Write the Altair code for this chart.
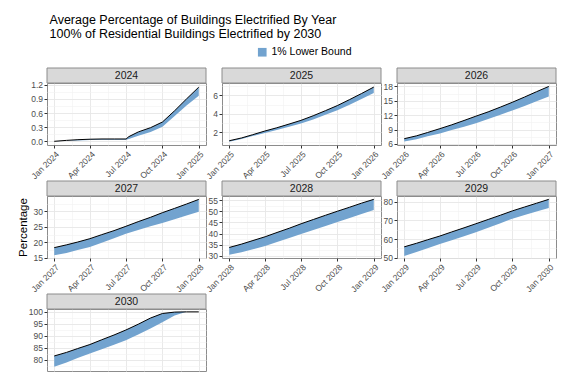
import altair as alt
import pandas as pd

# ---------------- data ----------------
YEARS = [2024, 2025, 2026, 2027, 2028, 2029, 2030]

dates_2024 = ["2024-01-01", "2024-02-01", "2024-03-01", "2024-04-01", "2024-05-01",
              "2024-06-01", "2024-07-01", "2024-07-08", "2024-08-01", "2024-09-01",
              "2024-10-01", "2024-11-01", "2024-12-01", "2025-01-01"]
mean_2024 = [0.00, 0.02, 0.035, 0.045, 0.05, 0.05, 0.05, 0.10, 0.20, 0.29, 0.41, 0.65, 0.90, 1.15]
lower_2024 = [0.00, 0.01, 0.02, 0.03, 0.035, 0.035, 0.035, 0.05, 0.12, 0.20, 0.31, 0.54, 0.76, 0.97]

mean_2025 = [1.1, 1.4, 1.75, 2.15, 2.5, 2.9, 3.3, 3.8, 4.35, 4.9, 5.55, 6.2, 6.9]
lower_2025 = [1.0, 1.3, 1.6, 1.95, 2.25, 2.6, 2.95, 3.4, 3.9, 4.4, 5.0, 5.6, 6.25]

mean_2026 = [7.1, 7.7, 8.4, 9.2, 10.0, 10.9, 11.8, 12.7, 13.7, 14.7, 15.8, 16.9, 18.0]
lower_2026 = [6.5, 7.0, 7.6, 8.2, 8.9, 9.6, 10.3, 11.2, 12.1, 13.0, 13.9, 14.9, 15.9]

mean_2027 = [18.3, 19.2, 20.1, 21.2, 22.5, 23.8, 25.2, 26.7, 28.1, 29.6, 31.0, 32.4, 33.9]
lower_2027 = [15.8, 16.6, 17.5, 18.5, 19.9, 21.3, 22.8, 24.0, 25.2, 26.3, 27.5, 28.7, 29.9]

mean_2028 = [33.8, 35.3, 36.9, 38.6, 40.5, 42.4, 44.4, 46.3, 48.2, 50.0, 51.8, 53.6, 55.3]
lower_2028 = [30.5, 31.7, 33.0, 34.5, 36.2, 38.0, 39.8, 41.6, 43.4, 45.2, 47.0, 48.8, 50.5]

mean_2029 = [55.8, 57.7, 59.6, 61.6, 63.8, 66.0, 68.2, 70.5, 72.8, 75.1, 77.2, 79.2, 81.3]
lower_2029 = [50.9, 53.0, 55.1, 57.3, 59.4, 61.5, 63.6, 66.0, 68.5, 70.9, 72.9, 74.8, 76.7]

mean_2030 = [81.5, 83.0, 84.6, 86.3, 88.3, 90.3, 92.4, 94.8, 97.4, 99.3, 99.9, 100.0, 100.0]
lower_2030 = [77.0, 78.8, 80.6, 82.5, 84.3, 86.2, 88.1, 90.5, 93.0, 95.6, 98.5, 100.0, 100.0]

Y_TICKS = {
    2024: [0.0, 0.3, 0.6, 0.9, 1.2],
    2025: [2, 4, 6],
    2026: [6, 9, 12, 15, 18],
    2027: [15, 20, 25, 30],
    2028: [30, 35, 40, 45, 50, 55],
    2029: [50, 60, 70, 80],
    2030: [80, 85, 90, 95, 100],
}
Y_DOMAIN = {
    2024: [-0.078, 1.238],
    2025: [0.64, 7.34],
    2026: [5.79, 18.72],
    2027: [14.95, 35.0],
    2028: [29.1, 56.8],
    2029: [49.8, 83.1],
    2030: [75.2, 101.2],
}
Y_FORMAT = {2024: ".1f"}
BAND_LABEL = "1% Lower Bound"
CROPPED_BOTTOM = {2030}  # bottom row is cut off in the reference image

# ---------------- style ----------------
W, H, STRIP = 159, 62, 15
BLUE = "#72a3cf"
BORDER = "#8c8c8c"
FONT = "Liberation Sans"


def monthly(year):
    return [f"{year}-{m:02d}-01" for m in range(1, 13)] + [f"{year + 1}-01-01"]


def ts(s):
    t = pd.Timestamp(s)
    if t.tzinfo is None:
        t = t.tz_localize("UTC")
    return t


def ms(s):
    return int(ts(s).value // 10**6)


series = {
    2024: (dates_2024, mean_2024, lower_2024),
    2025: (monthly(2025), mean_2025, lower_2025),
    2026: (monthly(2026), mean_2026, lower_2026),
    2027: (monthly(2027), mean_2027, lower_2027),
    2028: (monthly(2028), mean_2028, lower_2028),
    2029: (monthly(2029), mean_2029, lower_2029),
    2030: (monthly(2030), mean_2030, lower_2030),
}


def panel(year):
    dates, mean, lower = series[year]
    df = pd.DataFrame({"date": [ms(d) for d in dates], "mean": mean, "lower": lower,
                       "band": BAND_LABEL})
    start = ts(f"{year}-01-01")
    end = ts(f"{year + 1}-01-01")
    pad = (end - start) * 0.05
    xdom = [ms(start - pad), ms(end + pad)]
    qtr = [ms(f"{year}-{m:02d}-01") for m in (1, 4, 7, 10)] + [ms(end)]
    minor_x = [(qtr[i] + qtr[i + 1]) // 2 for i in range(4)]
    yt = Y_TICKS[year]
    step = yt[1] - yt[0]
    minor_y = [(yt[i] + yt[i + 1]) / 2 for i in range(len(yt) - 1)]
    lo, hi = Y_DOMAIN[year]
    if yt[0] - step / 2 >= lo:
        minor_y = [yt[0] - step / 2] + minor_y
    if yt[-1] + step / 2 <= hi:
        minor_y = minor_y + [yt[-1] + step / 2]

    xs = alt.Scale(type="utc", domain=xdom, nice=False)
    ys = alt.Scale(domain=Y_DOMAIN[year], nice=False, zero=False)
    show_x = year not in CROPPED_BOTTOM

    grid = alt.Chart(df).mark_point(opacity=0).encode(
        x=alt.X("date:T", scale=xs, axis=alt.Axis(values=minor_x, grid=True, labels=False,
                                                  ticks=False, domain=False, title=None,
                                                  orient="bottom",
                                                  gridColor="#f2f2f2", gridWidth=0.6)),
        y=alt.Y("mean:Q", scale=ys, axis=alt.Axis(values=minor_y, grid=True, labels=False,
                                                  ticks=False, domain=False, title=None,
                                                  orient="left",
                                                  gridColor="#f2f2f2", gridWidth=0.6)),
    )
    area = alt.Chart(df).mark_area(opacity=1).encode(
        x=alt.X("date:T", scale=xs, axis=alt.Axis(values=qtr, format="%b %Y", labelAngle=-45,
                                                  labelAlign="right", labelBaseline="top",
                                                  orient="bottom", labels=show_x,
                                                  ticks=show_x,
                                                  grid=True, gridColor="#e6e6e6", gridWidth=0.9,
                                                  title=None, domain=False)),
        y=alt.Y("lower:Q", scale=ys,
                axis=alt.Axis(values=yt, format=Y_FORMAT.get(year, "d"), grid=True,
                              gridColor="#e6e6e6", gridWidth=0.9, domain=False,
                              orient="left",
                              title="Percentage" if year == 2027 else None,
                              titlePadding=5, titleFontSize=11.5, titleFont=FONT,
                              titleFontWeight="normal", titleColor="#000")),
        y2="mean:Q",
        color=alt.Color("band:N", scale=alt.Scale(domain=[BAND_LABEL], range=[BLUE]),
                        legend=alt.Legend(title=None, orient="none", legendX=210, legendY=-36,
                                          symbolType="square", symbolSize=75,
                                          symbolStrokeWidth=0, labelFontSize=10.5,
                                          labelFont=FONT, labelColor="#000")),
    )
    line = alt.Chart(df).mark_line(color="black", strokeWidth=1).encode(
        x=alt.X("date:T", scale=xs, axis=None), y=alt.Y("mean:Q", scale=ys, axis=None))

    sdf = pd.DataFrame({"label": [str(year)]})
    strip = alt.Chart(sdf).mark_rect(fill="#d9d9d9", stroke=BORDER, strokeWidth=1).encode(
        x=alt.value(0), x2=alt.value(W), y=alt.value(-STRIP), y2=alt.value(0))
    stext = alt.Chart(sdf).mark_text(fontSize=10.5, font=FONT, color="#1a1a1a").encode(
        x=alt.value(W / 2), y=alt.value(-STRIP / 2), text="label:N")

    return alt.layer(grid, area, line, strip, stext).resolve_axis(
        x="independent", y="independent").properties(width=W, height=H)


chart = alt.concat(*[panel(y) for y in YEARS], columns=3,
                   spacing=alt.RowColnumber(row=51, column=16)).properties(
    bounds="flush",
    padding={"left": 8, "top": 5, "right": 5, "bottom": 5},
    title=alt.TitleParams(["Average Percentage of Buildings Electrified By Year",
                           "100% of Residential Buildings Electrified by 2030"],
                          anchor="start", fontSize=12.5, font=FONT, fontWeight="normal",
                          color="#000", lineHeight=14, offset=7, dx=33),
).configure_view(stroke=BORDER, strokeWidth=1, fill="white").configure_axis(
    labelFont=FONT, labelFontSize=8.5, labelColor="#4d4d4d", tickColor="#333333",
    tickSize=3, labelPadding=1.5,
)

chart.save("out.html", embed_options={"renderer": "svg", "actions": False})
